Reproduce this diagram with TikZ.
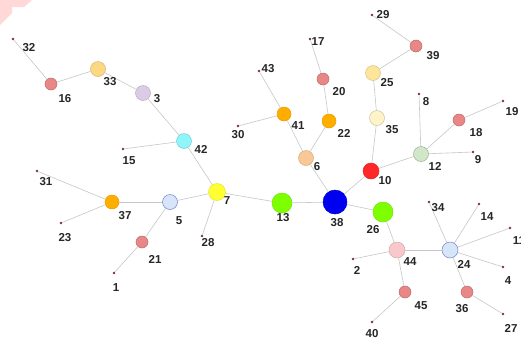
\documentclass[tikz,border=0pt]{standalone}
\usepackage{fontspec}
\setmainfont{Liberation Sans}
\begin{document}
\begin{tikzpicture}[x=1pt,y=-1pt,
  edge/.style={draw=black!22, line width=0.6pt},
  ballnode/.style={circle, inner sep=0pt, line width=0.5pt},
  dotnode/.style={circle, inner sep=0pt, minimum size=2.6pt, fill=dotc, draw=none},
  lab/.style={font=\bfseries\fontsize{11.5}{12}\selectfont, text=black!85, inner sep=0pt, anchor=center},
  redb/.style={ballnode, minimum size=12pt, fill=redc, draw=redc!80!black},
  orab/.style={ballnode, minimum size=14pt, fill=orac, draw=orac!90!black},
  bigg/.style={ballnode, minimum size=20pt, fill=grnc, draw=grnc!90!black},
]
\definecolor{dotc}{HTML}{7A2E50}
\definecolor{redc}{HTML}{E98686}
\definecolor{orac}{HTML}{FFAE00}
\definecolor{grnc}{HTML}{7EFF00}
\definecolor{yelc}{HTML}{FCD883}
\definecolor{lavc}{HTML}{DCCBE6}
\definecolor{cyac}{HTML}{90F4FB}
\definecolor{lblc}{HTML}{D6E5F8}
\definecolor{ye7c}{HTML}{FFFF33}
\definecolor{bluc}{HTML}{0000F0}
\definecolor{peac}{HTML}{F9C896}
\definecolor{lgrc}{HTML}{D0E8C8}
\definecolor{re10}{HTML}{FF2828}
\definecolor{y25c}{HTML}{FDE69C}
\definecolor{y35c}{HTML}{FFF3C8}
\definecolor{pk44}{HTML}{F9C8CA}
\definecolor{pinkbg}{HTML}{FFD8D8}

\useasboundingbox (0,0) rectangle (521,338);
\fill[white] (0,0) rectangle (521,338);
\fill[pinkbg] (0,0) -- (32,0) -- (24,7) -- (12,7) -- (12,13) -- (0,25) -- cycle;

% nodes
\node[dotnode] (n32) at (13,39) {};
\node[redb] (n16) at (51,84) {};
\node[ballnode, minimum size=15pt, fill=yelc, draw=yelc!85!black] (n33) at (98,69) {};
\node[ballnode, minimum size=15pt, fill=lavc, draw=lavc!85!black] (n3) at (143,93) {};
\node[ballnode, minimum size=15pt, fill=cyac, draw=cyac!85!black] (n42) at (184,141) {};
\node[dotnode] (n15) at (123,149) {};
\node[dotnode] (n30) at (238,126) {};
\node[dotnode] (n29) at (372,15) {};
\node[redb] (n39) at (416,46) {};
\node[dotnode] (n17) at (310,39) {};
\node[redb] (n20) at (323,79) {};
\node[dotnode] (n43) at (259,71) {};
\node[ballnode, minimum size=15pt, fill=y25c, draw=y25c!85!black] (n25) at (373,73) {};
\node[orab] (n41) at (284,114) {};
\node[orab] (n22) at (329,121) {};
\node[ballnode, minimum size=15pt, fill=y35c, draw=y35c!80!black] (n35) at (377,118) {};
\node[dotnode] (n8) at (419,94) {};
\node[dotnode] (n19) at (503,101) {};
\node[redb] (n18) at (459,120) {};
\node[ballnode, minimum size=15pt, fill=peac, draw=peac!85!black] (n6) at (306,158) {};
\node[ballnode, minimum size=15pt, fill=lgrc, draw=lgrc!75!black] (n12) at (421,154) {};
\node[dotnode] (n9) at (473,152) {};
\node[ballnode, minimum size=16pt, fill=re10, draw=re10!90!black] (n10) at (371,171) {};
\node[dotnode] (n31) at (37,171) {};
\node[orab] (n37) at (112,202) {};
\node[dotnode] (n23) at (61,223) {};
\node[ballnode, minimum size=15pt, fill=lblc, draw=lblc!70!blue!80!black] (n5) at (170,202) {};
\node[ballnode, minimum size=17pt, fill=ye7c, draw=ye7c!90!black] (n7) at (217,192) {};
\node[redb] (n21) at (142,242) {};
\node[dotnode] (n28) at (202,236) {};
\node[dotnode] (n1) at (114,273) {};
\node[bigg] (n13) at (282,203) {};
\node[ballnode, minimum size=24pt, fill=bluc, draw=bluc!90!black] (n38) at (335,202) {};
\node[bigg] (n26) at (383,212) {};
\node[dotnode] (n34) at (429,202) {};
\node[dotnode] (n14) at (479,204) {};
\node[dotnode] (n11) at (510,228) {};
\node[ballnode, minimum size=16pt, fill=pk44, draw=pk44!85!black] (n44) at (397,250) {};
\node[ballnode, minimum size=16pt, fill=lblc, draw=lblc!70!blue!80!black] (n24) at (450,250) {};
\node[dotnode] (n2) at (353,259) {};
\node[dotnode] (n4) at (503,267) {};
\node[redb] (n45) at (405,292) {};
\node[redb] (n36) at (467,292) {};
\node[dotnode] (n27) at (503,314) {};
\node[dotnode] (n40) at (372,322) {};

% edges
\begin{scope}[on background layer/.style={}]
\foreach \a/\b in {32/16,16/33,33/3,3/42,42/15,42/7,7/5,7/28,7/13,5/37,5/21,21/1,37/31,37/23,13/38,38/6,38/10,38/26,6/41,6/22,41/43,41/30,22/20,20/17,10/35,35/25,25/39,39/29,10/12,12/8,12/18,18/19,12/9,26/44,44/2,44/24,44/45,45/40,24/34,24/14,24/11,24/4,24/36,36/27}
  \draw[edge] (n\a) -- (n\b);
\end{scope}

% labels
\node[lab] (l32) at (29,48) {32};
\node[lab] (l16) at (65,99) {16};
\node[lab] (l33) at (110,82) {33};
\node[lab] (l3) at (157,99) {3};
\node[lab] (l42) at (201,149) {42};
\node[lab] (l15) at (129,161) {15};
\node[lab] (l30) at (238,135) {30};
\node[lab] (l29) at (383,15) {29};
\node[lab] (l39) at (433,56) {39};
\node[lab] (l17) at (318,42) {17};
\node[lab] (l20) at (339,92) {20};
\node[lab] (l43) at (268,69) {43};
\node[lab] (l25) at (387,83) {25};
\node[lab] (l41) at (298,126) {41};
\node[lab] (l22) at (344,133) {22};
\node[lab] (l35) at (392,130) {35};
\node[lab] (l8) at (426,102) {8};
\node[lab] (l19) at (512,112) {19};
\node[lab] (l18) at (476,133) {18};
\node[lab] (l6) at (317,167) {6};
\node[lab] (l12) at (435,166) {12};
\node[lab] (l9) at (478,160) {9};
\node[lab] (l10) at (385,181) {10};
\node[lab] (l31) at (46,182) {31};
\node[lab] (l37) at (125,216) {37};
\node[lab] (l23) at (65,238) {23};
\node[lab] (l5) at (179,221) {5};
\node[lab] (l7) at (227,201) {7};
\node[lab] (l21) at (155,259) {21};
\node[lab] (l28) at (208,243) {28};
\node[lab] (l1) at (116,288) {1};
\node[lab] (l13) at (283,218) {13};
\node[lab] (l38) at (337,223) {38};
\node[lab] (l26) at (373,230) {26};
\node[lab] (l34) at (438,208) {34};
\node[lab] (l14) at (487,217) {14};
\node[lab] (l11) at (519,241) {11};
\node[lab] (l44) at (410,262) {44};
\node[lab] (l24) at (464,264) {24};
\node[lab] (l2) at (357,270) {2};
\node[lab] (l4) at (508,281) {4};
\node[lab] (l45) at (421,306) {45};
\node[lab] (l36) at (462,309) {36};
\node[lab] (l27) at (511,328) {27};
\node[lab] (l40) at (372,334) {40};
\end{tikzpicture}
\end{document}
